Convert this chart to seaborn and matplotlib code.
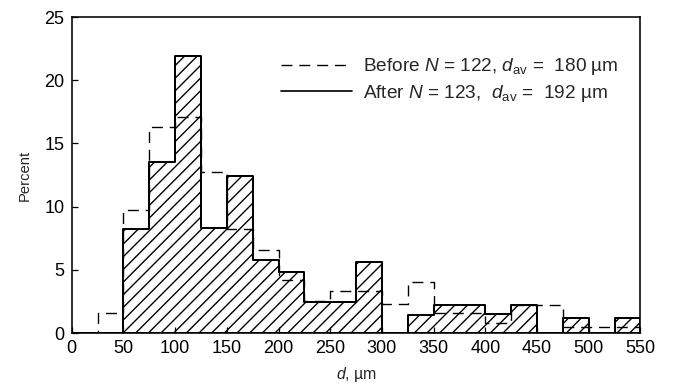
import matplotlib
matplotlib.use("Agg")
import matplotlib.pyplot as plt
from matplotlib.lines import Line2D
import numpy as np
import pandas as pd
import seaborn as sns

# ---- data ----
bin_edges = list(range(0, 575, 25))  # d, µm
before_pct = [0, 1.6, 9.7, 16.3, 17.1, 12.7, 8.2, 6.6, 4.2, 2.5, 3.35,
              3.35, 2.3, 4.0, 1.6, 1.6, 0.8, 2.2, 2.2, 0.45, 0.45, 0.45]
after_pct = [0, 0, 8.2, 13.5, 21.9, 8.3, 12.4, 5.75, 4.8, 2.45, 2.45,
             5.6, 0, 1.4, 2.2, 2.2, 1.5, 2.2, 0, 1.2, 0, 1.2]
bin_centers = [e + 12.5 for e in bin_edges[:-1]]
x_ticks = list(range(0, 600, 50))
y_ticks = [0, 5, 10, 15, 20, 25]
label_before = r"Before $N$ = 122, $d_{\rm av}$ =  180 µm"
label_after = r"After $N$ = 123,  $d_{\rm av}$ =  192 µm"

sns.set_theme(style="ticks")
plt.rcParams["font.family"] = ["Liberation Sans", "DejaVu Sans"]
plt.rcParams["mathtext.fontset"] = "custom"
plt.rcParams["mathtext.rm"] = "Liberation Sans"
plt.rcParams["mathtext.it"] = "Liberation Sans:italic"
plt.rcParams["hatch.linewidth"] = 1.3
plt.rcParams["hatch.color"] = "black"

DPI = 76
W, H = 675, 389
fig = plt.figure(figsize=(W / DPI, H / DPI), dpi=DPI)
x0, x1, yb, yt = 71.7, 640.5, 333, 17
ax = fig.add_axes([x0 / W, 1 - yb / H, (x1 - x0) / W, (yb - yt) / H])

df = pd.DataFrame({"d": bin_centers, "before": before_pct, "after": after_pct})

sns.histplot(data=df, x="d", weights="after", bins=bin_edges, element="step",
             fill=True, color="black", facecolor="none", edgecolor="black",
             hatch="//", linewidth=1.9, ax=ax, zorder=2)
sns.histplot(data=df, x="d", weights="before", bins=bin_edges, element="step",
             fill=False, color="black", linestyle=(0, (8, 5)), linewidth=1.3,
             ax=ax, zorder=3)

ax.set_xlim(0, 550)
ax.set_ylim(0, 25)
ax.set_xticks(x_ticks)
ax.set_yticks(y_ticks)
ax.tick_params(axis="both", direction="in", length=6, width=1.2,
               labelsize=17, pad=7, colors="black")
for s in ax.spines.values():
    s.set_visible(True)
    s.set_linewidth(1.5)
    s.set_color("black")
ax.set_xlabel("$d$, µm", fontsize=15, labelpad=7)
ax.set_ylabel("Percent", fontsize=14, labelpad=12)
ax.grid(False)

handles = [Line2D([], [], color="black", linestyle=(0, (8, 5)), linewidth=1.3),
           Line2D([], [], color="black", linestyle="-", linewidth=1.6)]
leg = ax.legend(handles, [label_before, label_after], loc="upper right",
                bbox_to_anchor=(0.975, 0.9), frameon=False, fontsize=18,
                handlelength=3.7, handletextpad=0.6, labelspacing=0.3,
                borderaxespad=0)

fig.savefig("out.png", dpi=DPI)
